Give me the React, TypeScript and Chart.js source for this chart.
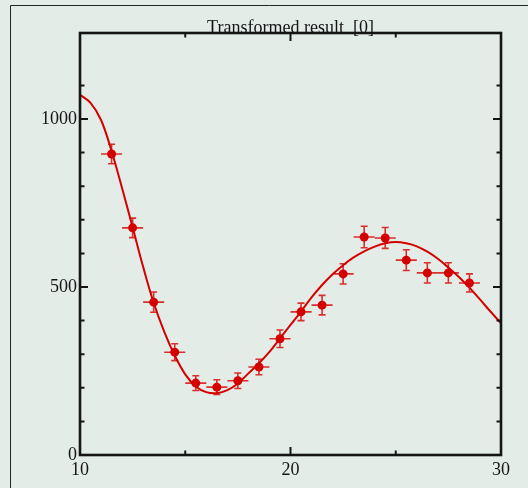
import { useEffect, useRef } from 'react';
import { Chart, registerables } from 'chart.js';

Chart.register(...registerables);

const BG = '#e4ece8';
const RED = '#d40000';
const ERR_RED = 'rgba(212, 0, 0, 0.8)';
const INK = '#151515';
const FONT = "'Liberation Serif', 'Times New Roman', serif";

const titleText = 'Transformed result  [0]';

const xMin = 10;
const xMax = 30;
const yMin = 0;
const yMax = 1256;
const xStep = 5;
const yStep = 100;
const xLabelTicks = [10, 20, 30];
const yLabelTicks = [0, 500, 1000];

// measured points
const pointX = [11.5, 12.5, 13.5, 14.5, 15.5, 16.5, 17.5, 18.5, 19.5, 20.5, 21.5, 22.5, 23.5, 24.5, 25.5, 26.5, 27.5, 28.5];
const pointY = [896, 676, 455, 306, 214, 202, 221, 262, 346, 426, 446, 539, 649, 646, 580, 542, 542, 512];
const pointYErr = [29, 29, 30, 25, 22, 22, 23, 23, 26, 26, 29, 30, 32, 31, 31, 30, 30, 27];
const pointXErr = [0.5, 0.5, 0.5, 0.5, 0.5, 0.5, 0.5, 0.5, 0.5, 0.5, 0.5, 0.5, 0.5, 0.5, 0.5, 0.5, 0.5, 0.5];

// fitted curve
const curveX = [10, 10.5, 11, 11.5, 12, 12.5, 13, 13.5, 14, 14.5, 15, 15.5, 16, 16.5, 17, 17.5, 18, 18.5, 19, 19.5, 20, 20.5, 21, 21.5, 22, 22.5, 23, 23.5, 24, 24.5, 25, 25.5, 26, 26.5, 27, 27.5, 28, 28.5, 29, 29.5, 30];
const curveY = [1072, 1048, 997, 905, 794, 678, 560, 453, 367, 296, 240, 204, 187, 184, 193, 213, 243, 273, 307, 347, 387, 427, 469, 506, 538, 565, 588, 606, 620, 630, 634, 630, 621, 605, 584, 558, 530, 498, 463, 427, 392];

const errorBarsPlugin = {
  id: 'errorBars',
  beforeDatasetsDraw(chart: any) {
    const { ctx, scales } = chart;
    const xs = scales.x;
    const ys = scales.y;
    ctx.save();
    ctx.strokeStyle = ERR_RED;
    ctx.lineWidth = 1.6;
    for (let i = 0; i < pointX.length; i++) {
      const px = xs.getPixelForValue(pointX[i]);
      const py = ys.getPixelForValue(pointY[i]);
      const xl = xs.getPixelForValue(pointX[i] - pointXErr[i]);
      const xr = xs.getPixelForValue(pointX[i] + pointXErr[i]);
      const yt = ys.getPixelForValue(pointY[i] + pointYErr[i]);
      const yb = ys.getPixelForValue(pointY[i] - pointYErr[i]);
      ctx.beginPath();
      ctx.moveTo(xl, py);
      ctx.lineTo(xr, py);
      ctx.moveTo(px, yt);
      ctx.lineTo(px, yb);
      ctx.moveTo(px - 3.5, yt);
      ctx.lineTo(px + 3.5, yt);
      ctx.moveTo(px - 3.5, yb);
      ctx.lineTo(px + 3.5, yb);
      ctx.stroke();
    }
    ctx.restore();
  },
};

const framePlugin = {
  id: 'frame',
  beforeDraw(chart: any) {
    const { ctx, width, height } = chart;
    ctx.save();
    ctx.fillStyle = BG;
    ctx.fillRect(0, 0, width, height);
    ctx.strokeStyle = '#222';
    ctx.lineWidth = 1;
    ctx.beginPath();
    ctx.moveTo(10.5, height);
    ctx.lineTo(10.5, 5.5);
    ctx.lineTo(width, 5.5);
    ctx.stroke();
    ctx.restore();
  },
  afterDraw(chart: any) {
    const { ctx, chartArea, scales } = chart;
    const { left, right, top, bottom } = chartArea;
    ctx.save();
    ctx.strokeStyle = INK;
    ctx.lineCap = 'butt';
    ctx.lineWidth = 2;
    const majorLen = 8;
    const minorLen = 4.5;
    for (const t of scales.x.ticks) {
      const v = t.value;
      if (v < xMin || v > xMax) continue;
      const px = scales.x.getPixelForValue(v);
      const len = xLabelTicks.includes(v) ? majorLen : minorLen;
      ctx.beginPath();
      ctx.moveTo(px, bottom);
      ctx.lineTo(px, bottom - len);
      ctx.moveTo(px, top);
      ctx.lineTo(px, top + len);
      ctx.stroke();
    }
    for (const t of scales.y.ticks) {
      const v = t.value;
      if (v % yStep !== 0) continue;
      const py = scales.y.getPixelForValue(v);
      const len = yLabelTicks.includes(v) ? majorLen : minorLen;
      ctx.beginPath();
      ctx.moveTo(left, py);
      ctx.lineTo(left + len, py);
      ctx.moveTo(right, py);
      ctx.lineTo(right - len, py);
      ctx.stroke();
    }
    ctx.lineWidth = 2.6;
    ctx.strokeRect(left, top, right - left, bottom - top);
    ctx.fillStyle = INK;
    ctx.font = `18px ${FONT}`;
    ctx.textAlign = 'center';
    ctx.textBaseline = 'alphabetic';
    ctx.fillText(titleText, (left + right) / 2, top - 0.5);
    ctx.restore();
  },
};

export default function App() {
  const ref = useRef<HTMLCanvasElement | null>(null);

  useEffect(() => {
    if (!ref.current) return;
    const chart = new Chart(ref.current, {
      type: 'scatter',
      data: {
        datasets: [
          {
            label: 'data',
            data: pointX.map((x, i) => ({ x, y: pointY[i] })),
            backgroundColor: RED,
            borderColor: RED,
            pointRadius: 4.5,
            pointBorderWidth: 0,
            showLine: false,
          },
          {
            label: 'fit',
            data: curveX.map((x, i) => ({ x, y: curveY[i] })),
            borderColor: RED,
            backgroundColor: RED,
            borderWidth: 2,
            pointRadius: 0,
            showLine: true,
            tension: 0.35,
          },
        ],
      },
      plugins: [errorBarsPlugin, framePlugin],
      options: {
        responsive: false,
        animation: false,
        devicePixelRatio: 1,
        layout: { padding: { left: 0, right: 27, top: 33, bottom: 0 } },
        plugins: {
          legend: { display: false },
          tooltip: { enabled: false },
          title: { display: false },
        },
        scales: {
          x: {
            type: 'linear',
            min: xMin,
            max: xMax,
            grid: { display: false, drawTicks: false },
            border: { display: false },
            ticks: {
              stepSize: xStep,
              autoSkip: false,
              maxRotation: 0,
              padding: 4,
              color: INK,
              font: { family: FONT, size: 18 },
              callback: (v: any) => (xLabelTicks.includes(Number(v)) ? String(v) : ''),
            },
            afterFit: (s: any) => {
              s.height = 33;
            },
          },
          y: {
            type: 'linear',
            min: yMin,
            max: yMax,
            grid: { display: false, drawTicks: false },
            border: { display: false },
            ticks: {
              stepSize: yStep,
              autoSkip: false,
              padding: 3,
              color: INK,
              font: { family: FONT, size: 18 },
              callback: (v: any) => (yLabelTicks.includes(Number(v)) ? String(v) : ''),
            },
            afterFit: (s: any) => {
              s.width = 80;
            },
          },
        },
      },
    });
    return () => chart.destroy();
  }, []);

  return (
    <div style={{ position: 'absolute', left: 0, top: 0, width: 528, height: 488, background: BG }}>
      <canvas ref={ref} width={528} height={488} style={{ display: 'block' }} />
    </div>
  );
}
